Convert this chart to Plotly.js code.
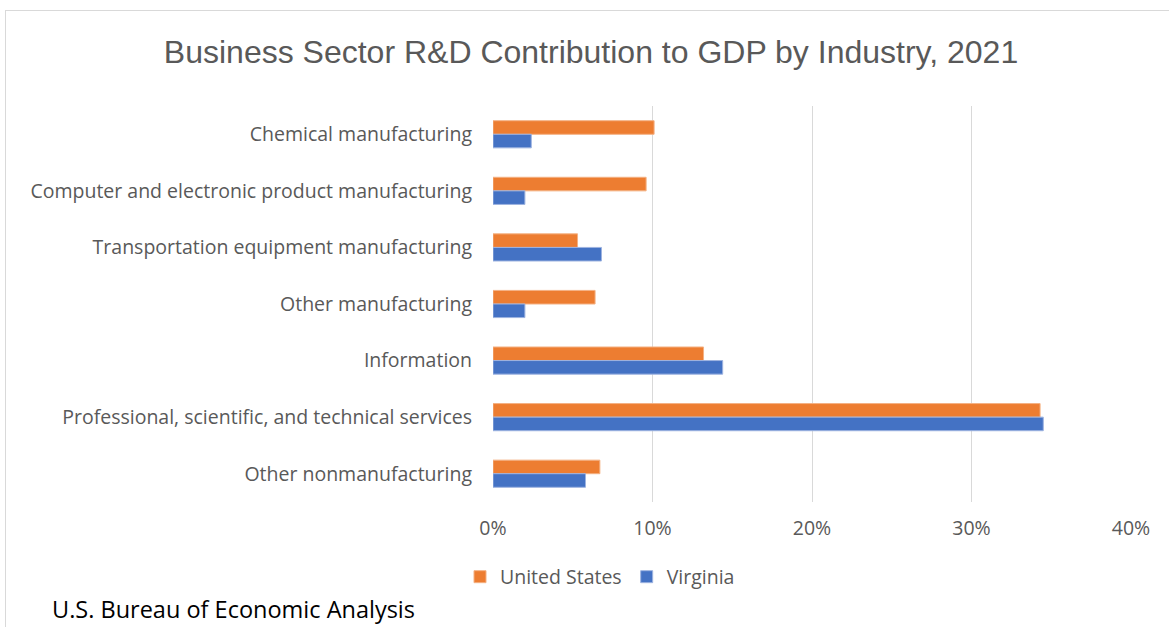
<!DOCTYPE html>
<html>
<head>
<meta charset="utf-8">
<script src="https://cdn.plot.ly/plotly-3.0.1.min.js"></script>
<style>
  html, body { margin: 0; padding: 0; background: #fff; }
  #chart { width: 1169px; height: 627px; }
</style>
</head>
<body>
<div id="chart"></div>
<script>
const categories = [
  "Chemical manufacturing",
  "Computer and electronic product manufacturing",
  "Transportation equipment manufacturing",
  "Other manufacturing",
  "Information",
  "Professional, scientific, and technical services",
  "Other nonmanufacturing"
];
const unitedStates = [10.1, 9.6, 5.3, 6.4, 13.2, 34.3, 6.7];
const virginia = [2.4, 2.0, 6.8, 2.0, 14.4, 34.5, 5.8];
const xTickValues = [0, 10, 20, 30, 40];
const xTickLabels = ["0%", "10%", "20%", "30%", "40%"];

const W = 1169, H = 627;
const mL = 493, mR = 38, mT = 106, mB = 125;
const pw = W - mL - mR, ph = H - mT - mB;
const px = v => (v - mL) / pw;
const py = v => (H - mB - v) / ph;

const traces = [
  {
    type: 'bar', orientation: 'h', name: 'United States',
    y: categories, x: unitedStates,
    marker: { color: '#ED7D31', line: { color: '#F4B183', width: 1 } },
    hoverinfo: 'x+y'
  },
  {
    type: 'bar', orientation: 'h', name: 'Virginia',
    y: categories, x: virginia,
    marker: { color: '#4472C4', line: { color: '#9DB3E0', width: 1 } },
    hoverinfo: 'x+y'
  }
];

const labelFont = { family: 'Open Sans, sans-serif', size: 19.5, color: '#595959' };

const layout = {
  width: W, height: H,
  margin: { l: mL, r: mR, t: mT, b: mB },
  paper_bgcolor: '#ffffff', plot_bgcolor: '#ffffff',
  barmode: 'group', bargap: 0.52, bargroupgap: 0,
  title: {
    text: 'Business Sector R&D Contribution to GDP by Industry, 2021',
    font: { family: 'Liberation Sans Narrow, Arial Narrow, sans-serif', size: 32, color: '#595959' },
    x: px(591), xref: 'paper', xanchor: 'center',
    y: 1 - 52 / H, yref: 'container', yanchor: 'middle'
  },
  xaxis: {
    range: [0, 40], tickvals: xTickValues, ticktext: xTickLabels,
    showgrid: true, gridcolor: '#D9D9D9', gridwidth: 1,
    zeroline: false, showline: false, ticks: '',
    tickfont: labelFont,
    ticklabelstandoff: 12, fixedrange: true
  },
  yaxis: {
    autorange: 'reversed', showgrid: false, zeroline: false, showline: false,
    ticks: '', ticklabelstandoff: 20,
    tickfont: labelFont,
    fixedrange: true
  },
  showlegend: true,
  legend: {
    orientation: 'h', x: px(600), xanchor: 'center', y: py(577), yanchor: 'middle',
    font: labelFont,
    itemwidth: 30, traceorder: 'normal'
  },
  annotations: [
    {
      text: 'U.S. Bureau of Economic Analysis', showarrow: false,
      xref: 'paper', yref: 'paper', x: px(50), y: py(609), xanchor: 'left', yanchor: 'middle',
      font: { family: 'Open Sans, sans-serif', size: 23.5, color: '#000000' }
    }
  ],
  shapes: [
    { type: 'line', xref: 'paper', yref: 'paper', x0: px(5), x1: px(1169), y0: py(10.5), y1: py(10.5),
      line: { color: '#D9D9D9', width: 1 } },
    { type: 'line', xref: 'paper', yref: 'paper', x0: px(5.5), x1: px(5.5), y0: py(10), y1: py(627),
      line: { color: '#D9D9D9', width: 1 } }
  ]
};

Plotly.newPlot('chart', traces, layout, { displayModeBar: false, staticPlot: true });
</script>
</body>
</html>
